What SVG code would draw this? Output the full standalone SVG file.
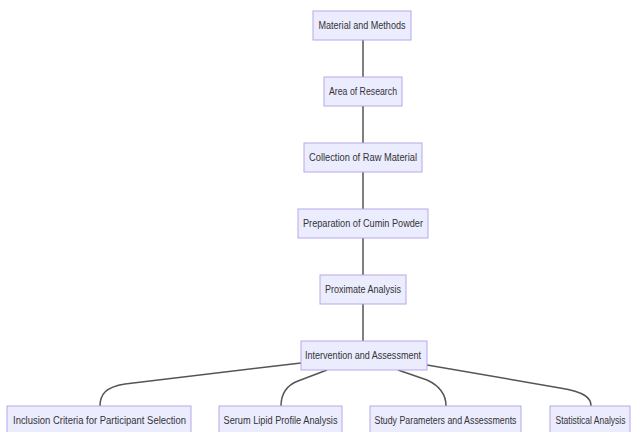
<svg xmlns="http://www.w3.org/2000/svg" width="633" height="432" viewBox="0 0 633 432">
<style>
.n rect{fill:#ECECFF;stroke:#b7a8e8;stroke-width:1}
.n text{font-family:"Liberation Sans",Arial,sans-serif;font-size:10px;fill:#333;text-anchor:middle;dominant-baseline:central}
.e path{fill:none;stroke:#555;stroke-width:1.5}
</style>
<rect width="633" height="432" fill="#fff"/>
<g id="edges" class="e">
<path d="M363,40 V77"/>
<path d="M363,106 V143"/>
<path d="M363,172 V209"/>
<path d="M363,238 V275"/>
<path d="M363,304 V341"/>
<path d="M301,363 L125,384 C105,387 100,395 100,406"/>
<path d="M327,370 L298,381 C285,386 281,395 281,406"/>
<path d="M398,370 L427,380 C440,386 446,395 446,406"/>
<path d="M427,365 L560,388 C585,392 591,398 591,406"/>
</g>
<g id="n1" class="n"><rect x="313" y="11" width="98" height="29"/><text x="362" y="25.5" textLength="87" lengthAdjust="spacingAndGlyphs">Material and Methods</text></g>
<g id="n2" class="n"><rect x="324" y="77" width="78" height="29"/><text x="363" y="91.5" textLength="68" lengthAdjust="spacingAndGlyphs">Area of Research</text></g>
<g id="n3" class="n"><rect x="304" y="143" width="118" height="29"/><text x="363" y="157.5" textLength="108" lengthAdjust="spacingAndGlyphs">Collection of Raw Material</text></g>
<g id="n4" class="n"><rect x="298" y="209" width="130" height="29"/><text x="363" y="223.5" textLength="120" lengthAdjust="spacingAndGlyphs">Preparation of Cumin Powder</text></g>
<g id="n5" class="n"><rect x="320" y="275" width="86" height="29"/><text x="363" y="289.5" textLength="76" lengthAdjust="spacingAndGlyphs">Proximate Analysis</text></g>
<g id="n6" class="n"><rect x="301" y="341" width="126" height="29"/><text x="363" y="355.5" textLength="116" lengthAdjust="spacingAndGlyphs">Intervention and Assessment</text></g>
<g id="n7" class="n"><rect x="7" y="406" width="184" height="29"/><text x="99.5" y="420.5" textLength="173" lengthAdjust="spacingAndGlyphs">Inclusion Criteria for Participant Selection</text></g>
<g id="n8" class="n"><rect x="219" y="406" width="123" height="29"/><text x="280.5" y="420.5" textLength="114" lengthAdjust="spacingAndGlyphs">Serum Lipid Profile Analysis</text></g>
<g id="n9" class="n"><rect x="370" y="406" width="151" height="29"/><text x="445.5" y="420.5" textLength="142" lengthAdjust="spacingAndGlyphs">Study Parameters and Assessments</text></g>
<g id="n10" class="n"><rect x="550" y="406" width="80" height="29"/><text x="590.5" y="420.5" textLength="70" lengthAdjust="spacingAndGlyphs">Statistical Analysis</text></g>
</svg>
